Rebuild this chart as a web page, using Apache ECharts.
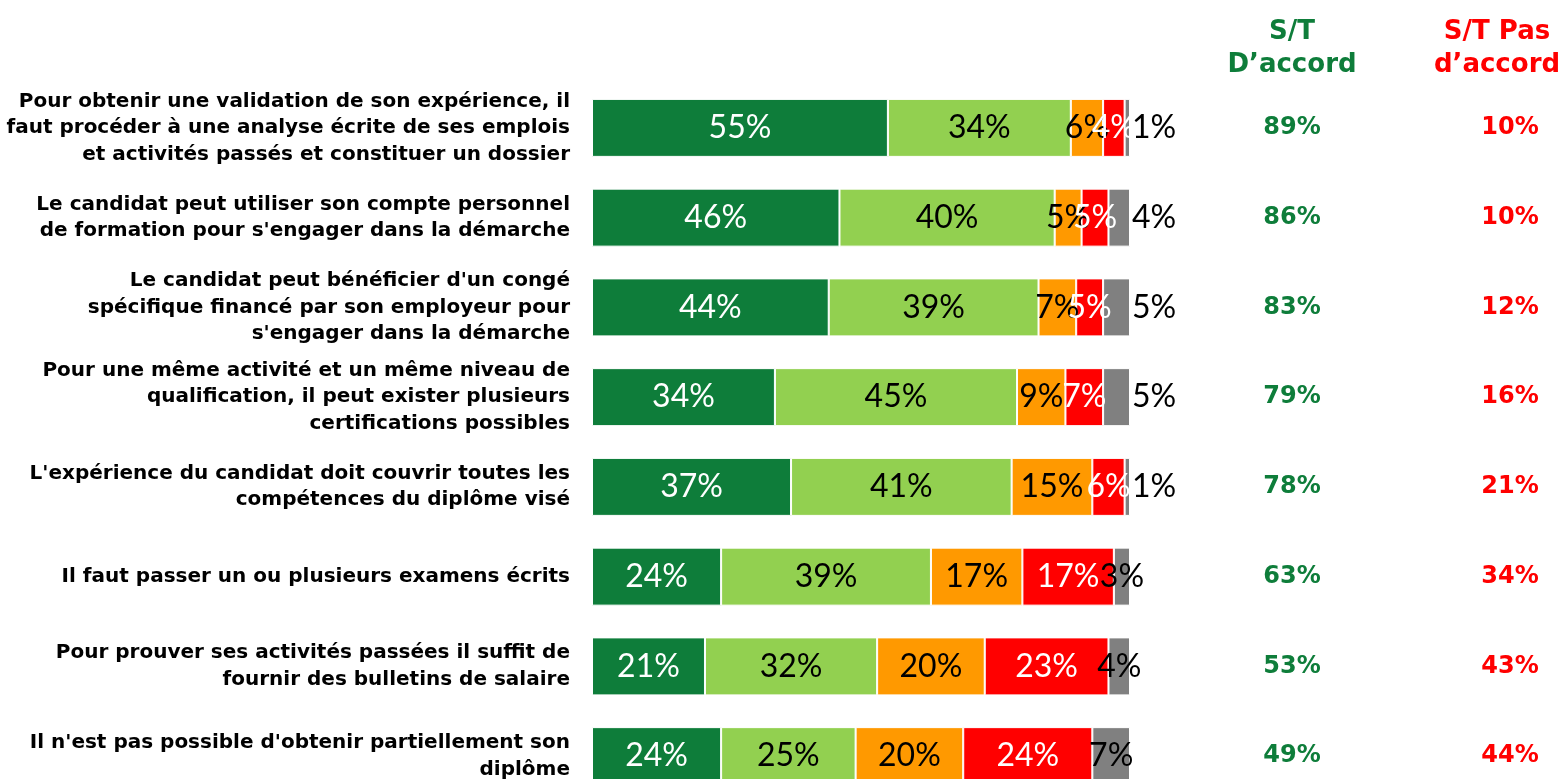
<!DOCTYPE html>
<html>
<head>
<meta charset="utf-8">
<script src="https://cdn.jsdelivr.net/npm/echarts@6/dist/echarts.min.js"></script>
<style>
  html, body { margin: 0; padding: 0; background: #ffffff; }
  #chart { width: 1566px; height: 779px; }
</style>
</head>
<body>
<div id="chart"></div>
<script>
// Statements (top to bottom)
const categories = [
  "Pour obtenir une validation de son expérience, il\nfaut procéder à une analyse écrite de ses emplois\net activités passés et constituer un dossier",
  "Le candidat peut utiliser son compte personnel\nde formation pour s'engager dans la démarche",
  "Le candidat peut bénéficier d'un congé\nspécifique financé par son employeur pour\ns'engager dans la démarche",
  "Pour une même activité et un même niveau de\nqualification, il peut exister plusieurs\ncertifications possibles",
  "L'expérience du candidat doit couvrir toutes les\ncompétences du diplôme visé",
  "Il faut passer un ou plusieurs examens écrits",
  "Pour prouver ses activités passées il suffit de\nfournir des bulletins de salaire",
  "Il n'est pas possible d'obtenir partiellement son\ndiplôme"
];

// Answer shares (%)
const toutAFaitDaccord = [55, 46, 44, 34, 37, 24, 21, 24];
const plutotDaccord    = [34, 40, 39, 45, 41, 39, 32, 25];
const plutotPasDaccord = [6, 5, 7, 9, 15, 17, 20, 20];
const pasDuToutDaccord = [4, 5, 5, 7, 6, 17, 23, 24];
const nsp              = [1, 4, 5, 5, 1, 3, 4, 7];

// Sub-totals shown on the right
const stAccord    = [89, 86, 83, 79, 78, 63, 53, 49];
const stPasAccord = [10, 10, 12, 16, 21, 34, 43, 44];
const totalHeaders = ["S/T\nD\u2019accord", "S/T Pas\nd\u2019accord"];

const GREEN_DARK = "#0e7d3a";
const GREEN_LIGHT = "#92d050";
const ORANGE = "#ff9900";
const RED = "#ff0000";
const GREY = "#808080";

const LABEL_FONT = "Lato, 'Open Sans', sans-serif";
const TEXT_FONT = "'DejaVu Sans', Verdana, sans-serif";

// the 'Ne sait pas' labels sit beside the bar on the first five rows
const nspOutside = [true, true, true, true, true, false, false, false];

function segLabel(color) {
  return {
    show: true,
    position: "inside",
    formatter: "{c}%",
    color: color,
    textBorderWidth: 0,
    fontFamily: LABEL_FONT,
    fontSize: 32,
    fontWeight: "normal"
  };
}

function barSeries(name, values, color, labelColor) {
  return {
    name: name,
    type: "bar",
    stack: "total",
    xAxisIndex: 0,
    yAxisIndex: 0,
    barWidth: 58,
    data: values,
    itemStyle: { color: color, borderColor: "#ffffff", borderWidth: 1 },
    label: segLabel(labelColor),
    emphasis: { disabled: true },
    silent: true
  };
}

const nspSeries = barSeries("Ne sait pas", nsp.map((v, i) => ({
  value: v,
  label: nspOutside[i] ? { position: "right", distance: 2 } : { position: "inside" }
})), GREY, "#000000");

function totalSeries(name, values, col, color) {
  return {
    name: name,
    type: "scatter",
    xAxisIndex: 1, yAxisIndex: 1,
    symbolSize: 1,
    itemStyle: { color: "rgba(0,0,0,0)", opacity: 1 },
    data: values.map((v, i) => [col, i, v]),
    label: {
      show: true, position: "inside",
      formatter: p => p.value[2] + "%",
      color: color, opacity: 1, textBorderWidth: 0, textBorderColor: "transparent",
      fontFamily: TEXT_FONT, fontWeight: "bold", fontSize: 24
    },
    emphasis: { disabled: true },
    silent: true
  };
}

const chart = echarts.init(document.getElementById("chart"), null, { renderer: "canvas" });

chart.setOption({
  animation: false,
  backgroundColor: "#ffffff",
  grid: [
    { left: 592, width: 538, top: 83, height: 718, containLabel: false, outerBoundsMode: "none" },
    { left: 1183, width: 436, top: 83, height: 718, containLabel: false, outerBoundsMode: "none" }
  ],
  xAxis: [
    {
      gridIndex: 0, type: "value", min: 0, max: 100,
      show: false
    },
    {
      gridIndex: 1, type: "category", position: "top",
      data: [
        { value: totalHeaders[0], textStyle: { color: GREEN_DARK } },
        { value: totalHeaders[1], textStyle: { color: RED, padding: [0, 26, 0, 0] } }
      ],
      axisLine: { show: false }, axisTick: { show: false }, splitLine: { show: false },
      axisLabel: {
        interval: 0,
        margin: 1,
        fontFamily: TEXT_FONT,
        fontWeight: "bold",
        fontSize: 26,
        lineHeight: 33,
        align: "center"
      }
    }
  ],
  yAxis: [
    {
      gridIndex: 0, type: "category", inverse: true, data: categories,
      axisLine: { show: false }, axisTick: { show: false }, splitLine: { show: false },
      axisLabel: {
        interval: 0,
        margin: 22,
        color: "#000000",
        fontFamily: TEXT_FONT,
        fontWeight: "bold",
        fontSize: 20,
        lineHeight: 26.5,
        align: "right"
      }
    },
    {
      gridIndex: 1, type: "category", inverse: true, data: categories,
      show: false
    }
  ],
  series: [
    barSeries("Tout à fait d'accord", toutAFaitDaccord, GREEN_DARK, "#ffffff"),
    barSeries("Plutôt d'accord", plutotDaccord, GREEN_LIGHT, "#000000"),
    barSeries("Plutôt pas d'accord", plutotPasDaccord, ORANGE, "#000000"),
    barSeries("Pas du tout d'accord", pasDuToutDaccord, RED, "#ffffff"),
    nspSeries,
    totalSeries("S/T D'accord", stAccord, 0, GREEN_DARK),
    totalSeries("S/T Pas d'accord", stPasAccord, 1, RED)
  ]
});
</script>
</body>
</html>
